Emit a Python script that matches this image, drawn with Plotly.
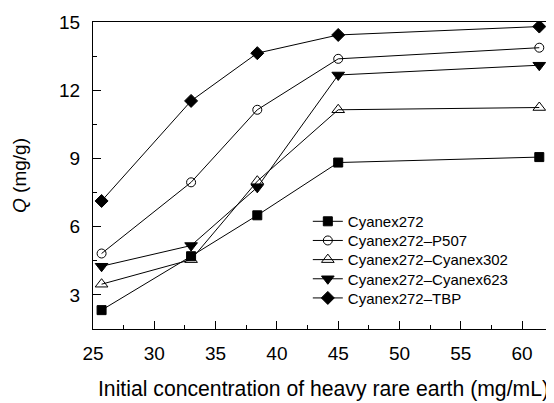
import plotly.graph_objects as go

conc = [25.7, 33.0, 38.4, 45.0, 61.4]
names = ["Cyanex272", "Cyanex272–P507", "Cyanex272–Cyanex302", "Cyanex272–Cyanex623", "Cyanex272–TBP"]
q_272 = [2.33, 4.70, 6.50, 8.82, 9.06]
q_p507 = [4.82, 7.95, 11.14, 13.38, 13.87]
q_302 = [3.47, 4.55, 8.00, 11.14, 11.24]
q_623 = [4.26, 5.17, 7.73, 12.67, 13.10]
q_tbp = [7.13, 11.53, 13.63, 14.43, 14.80]
series = [q_272, q_p507, q_302, q_623, q_tbp]
symbols = ["square", "circle-open", "triangle-up-open", "triangle-down", "diamond"]
sizes = [9, 9, 11, 11, 10]

font = "Liberation Sans, Arial, sans-serif"
fig = go.Figure()
legend_layout = {}
for i, (name, vals, sym, sz) in enumerate(zip(names, series, symbols, sizes)):
    key = "legend" if i == 0 else f"legend{i + 1}"
    fig.add_trace(go.Scatter(
        x=conc, y=vals, name=name, mode="lines+markers", legend=key,
        line=dict(color="black", width=1),
        marker=dict(symbol=sym, size=sz, color="black", line=dict(color="black", width=1)),
    ))
    legend_layout[key] = dict(x=0.466, y=0.35 - 0.0624 * i, xanchor="left", yanchor="middle",
                              font=dict(size=15, family=font), bgcolor="rgba(0,0,0,0)",
                              itemwidth=30)

fig.update_layout(
    width=554, height=403,
    margin=dict(l=85, r=8, t=14, b=82),
    paper_bgcolor="white", plot_bgcolor="white",
    font=dict(family=font, color="black", size=19),
    showlegend=True,
    xaxis=dict(range=[25, 62.6], tickmode="array", tickvals=[25, 30, 35, 40, 45, 50, 55, 60],
               ticks="inside", ticklen=8, tickwidth=1, tickcolor="black",
               minor=dict(ticks="inside", ticklen=4, tickcolor="black", dtick=2.5, tick0=25),
               showline=True, linecolor="black", linewidth=1, mirror=True,
               showgrid=False, zeroline=False, automargin=False,
               ticklabelstandoff=7,
               title=dict(text="Initial concentration of heavy rare earth (mg/mL)", font=dict(size=21.2), standoff=18),
               tickfont=dict(size=19)),
    yaxis=dict(range=[1.5, 15], tickmode="array", tickvals=[3, 6, 9, 12, 15],
               ticks="inside", ticklen=8, tickwidth=1, tickcolor="black",
               minor=dict(ticks="inside", ticklen=4, tickcolor="black", dtick=1.5, tick0=1.5),
               showline=True, linecolor="black", linewidth=1, mirror=False,
               showgrid=False, zeroline=False, automargin=False,
               ticklabelstandoff=8,
               title=dict(text="<i>Q</i> (mg/g)", font=dict(size=19), standoff=27),
               tickfont=dict(size=19)),
    **legend_layout,
)
fig.write_html("out.html")
